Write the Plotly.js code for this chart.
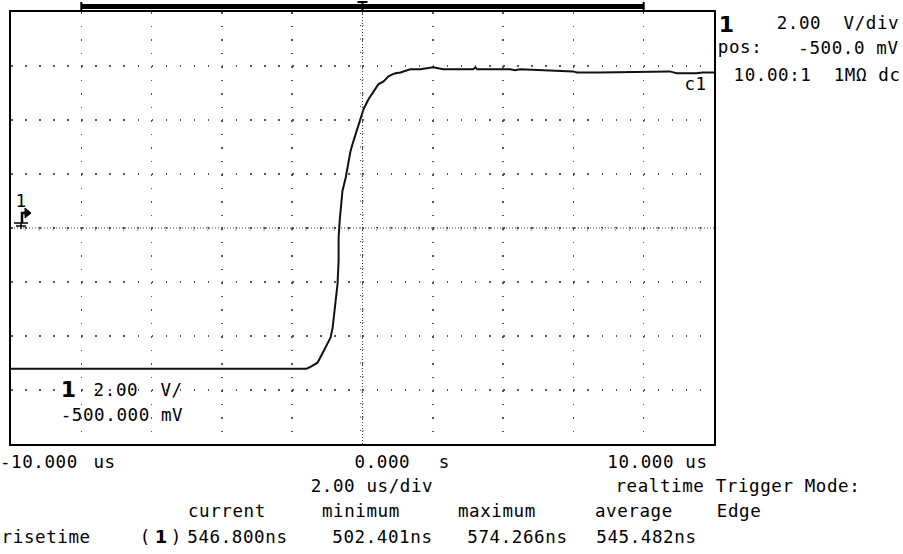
<!DOCTYPE html>
<html>
<head>
<meta charset="utf-8">
<script src="https://cdn.plot.ly/plotly-3.0.1.min.js"></script>
<style>
  html, body { margin: 0; padding: 0; background: #fff; }
  #scope .annotation-text { letter-spacing: 0.6px; }
</style>
</head>
<body>
<div id="scope" style="width:903px;height:554px;"></div>
<script>
// Channel 1 step response: time in microseconds, amplitude in volts
const timeUs = [-10, -1.59, -1.48, -1.28, -1.19, -1.05, -0.91, -0.85, -0.82, -0.77,
  -0.71, -0.68, -0.68, -0.65, -0.62, -0.57, -0.48, -0.40, -0.34, -0.26,
  -0.14, -0.06, 0.03, 0.17, 0.31, 0.45, 0.60, 0.74, 0.85, 0.94,
  1.08, 1.36, 1.65, 2.01, 2.30, 3.15, 3.21, 3.26, 4.20, 4.34,
  4.48, 5.13, 5.99, 6.10, 6.75, 8.74, 8.94, 9.50, 9.67, 10.0];
const ch1Volts = [-5.71, -5.71, -5.64, -5.49, -5.27, -4.93, -4.56, -4.20, -3.83, -3.38,
  -2.57, -1.72, -0.87, -0.24, 0.31, 0.87, 1.35, 1.90, 2.35, 2.71,
  3.20, 3.56, 3.90, 4.27, 4.56, 4.82, 4.93, 5.12, 5.19, 5.23,
  5.26, 5.38, 5.38, 5.45, 5.38, 5.38, 5.45, 5.38, 5.38, 5.34,
  5.38, 5.34, 5.30, 5.26, 5.26, 5.30, 5.23, 5.23, 5.26, 5.26];

// Horizontal / vertical settings
const timeRangeUs = [-10, 10];
const timePerDivUs = 2;
const voltsPerDiv = 2;
const offsetVolts = -0.5;
const timeValues = ['-10.000', '0.000', '10.000'];
const timeUnits = ['us', 's', 'us'];
const timebaseLabel = '2.00 us/div';

// Rise time measurement readout
const statNames = ['current', 'minimum', 'maximum', 'average'];
const risetimeNs = [546.800, 502.401, 574.266, 545.482];

const voltRange = [offsetVolts - 4 * voltsPerDiv, offsetVolts + 4 * voltsPerDiv];

// pixel helpers for the readout text around the graticule
const L = 11, T = 12, W = 703, H = 432;
const px = v => (v - L) / W;
const py = v => (T + H - v) / H;
const FONT = 'DejaVu Sans Mono';
const ann = [];
function txt(x, y, s, o) {
  o = o || {};
  ann.push({
    xref: 'paper', yref: 'paper', x: px(x), y: py(y), text: s, showarrow: false,
    xanchor: o.anchor || 'left', yanchor: 'middle',
    font: { family: o.family || FONT, size: o.size || 17.5, color: '#000', weight: o.weight || 'normal' }
  });
}

// channel info panel
txt(717, 24, '1', { size: 22, weight: 'bold', family: 'DejaVu Sans' });
txt(898, 22.5, '2.00  V/div', { anchor: 'right' });
txt(717, 47, 'pos:');
txt(898, 48, (offsetVolts * 1000).toFixed(1) + ' mV', { anchor: 'right' });
txt(898, 75, '10.00:1  1M\u03A9 dc', { anchor: 'right' });

// in-graticule labels
txt(59, 389, '1', { size: 22, weight: 'bold', family: 'DejaVu Sans' });
txt(94, 390, voltsPerDiv.toFixed(2) + '  V/');
txt(62, 415, (offsetVolts * 1000).toFixed(3) + ' mV');
txt(683, 84, 'c1');
txt(14, 201, '1', { size: 17, family: 'DejaVu Sans' });

// time axis labels
txt(0, 461.5, timeValues[0]);
txt(92, 461.5, timeUnits[0]);
txt(354, 461.5, timeValues[1]);
txt(437, 461.5, timeUnits[1]);
txt(707, 461.5, timeValues[2] + ' ' + timeUnits[2], { anchor: 'right' });
txt(312, 486.5, timebaseLabel);
txt(620, 486.5, 'realtime Trigger Mode:');

// measurement table
const colX = [188, 322, 458, 595];
statNames.forEach((n, i) => txt(colX[i], 510.5, n));
txt(716, 510.5, 'Edge');
txt(2, 536.5, 'risetime');
txt(138, 536.5, '(');
txt(153, 536.5, '1', { weight: 'bold', family: 'DejaVu Sans', size: 18 });
txt(169, 536.5, ')');
const valX = [188, 333, 468, 597];
risetimeNs.forEach((v, i) => txt(valX[i], 536.5, v.toFixed(3) + 'ns'));

// graticule centre lines with their sub-division crosses
const shapes = [];
const gray = '#444';
shapes.push({ type: 'line', xref: 'x', yref: 'y', x0: timeRangeUs[0], x1: timeRangeUs[1], y0: offsetVolts, y1: offsetVolts,
  line: { color: gray, width: 1, dash: '1px,2px' } });
shapes.push({ type: 'line', xref: 'x', yref: 'y', x0: 0, x1: 0, y0: voltRange[0], y1: voltRange[1],
  line: { color: gray, width: 1, dash: '1px,2px' } });
for (let t = timeRangeUs[0] + timePerDivUs / 5; t < timeRangeUs[1] - 1e-6; t += timePerDivUs / 5) {
  shapes.push({ type: 'line', xref: 'x', yref: 'y', xsizemode: 'scaled', ysizemode: 'pixel', yanchor: offsetVolts,
    x0: t, x1: t, y0: -2.5, y1: 2.5, line: { color: gray, width: 1, dash: '1px,1.5px' } });
}
for (let v = voltRange[0] + voltsPerDiv / 4; v < voltRange[1] - 1e-6; v += voltsPerDiv / 4) {
  shapes.push({ type: 'line', xref: 'x', yref: 'y', xsizemode: 'pixel', xanchor: 0,
    x0: -2.5, x1: 2.5, y0: v, y1: v, line: { color: gray, width: 1, dash: '1px,1.5px' } });
}

// acquisition record bar and trigger point above the graticule
shapes.push({ type: 'rect', xref: 'x', yref: 'paper', x0: -8, x1: 8, y0: py(9), y1: py(4),
  fillcolor: '#000', line: { width: 0 } });
shapes.push({ type: 'line', xref: 'x', yref: 'paper', x0: -8, x1: -8, y0: py(10), y1: py(2), line: { color: '#000', width: 2 } });
shapes.push({ type: 'line', xref: 'x', yref: 'paper', x0: 8, x1: 8, y0: py(10), y1: py(2), line: { color: '#000', width: 2 } });
shapes.push({ type: 'line', xref: 'x', yref: 'paper', x0: 0, x1: 0, y0: py(10), y1: py(2), line: { color: '#000', width: 2 } });
shapes.push({ type: 'line', xref: 'x', yref: 'paper', xsizemode: 'pixel', xanchor: 0, x0: -5, x1: 5, y0: py(2), y1: py(2),
  line: { color: '#000', width: 2 } });

// channel 1 ground / level marker on the left edge
shapes.push({ type: 'path', xref: 'paper', yref: 'y', xsizemode: 'pixel', ysizemode: 'pixel', xanchor: 0, yanchor: offsetVolts,
  path: 'M 11 5 L 11 15 L 15 15', line: { color: '#000', width: 2.5 } });
shapes.push({ type: 'path', xref: 'paper', yref: 'y', xsizemode: 'pixel', ysizemode: 'pixel', xanchor: 0, yanchor: offsetVolts,
  path: 'M 14 20 L 20 15 L 14 10 Z', fillcolor: '#000', line: { color: '#000', width: 1 } });
shapes.push({ type: 'path', xref: 'paper', yref: 'y', xsizemode: 'pixel', ysizemode: 'pixel', xanchor: 0, yanchor: offsetVolts,
  path: 'M 3 5 L 17 5 M 5 2 L 15 2 M 10 5 L 10 -1', line: { color: '#000', width: 1.5 } });

const trace = {
  x: timeUs, y: ch1Volts, type: 'scatter', mode: 'lines',
  line: { color: '#111', width: 2 }, hoverinfo: 'skip'
};

const axisBase = {
  showline: true, mirror: true, linecolor: '#000', linewidth: 2,
  showticklabels: false, ticks: '', zeroline: false, fixedrange: true,
  showgrid: true, gridcolor: '#555', gridwidth: 1.5
};

const layout = {
  width: 903, height: 554,
  margin: { l: L, r: 903 - L - W, t: T, b: 554 - T - H },
  paper_bgcolor: '#fff', plot_bgcolor: '#fff',
  showlegend: false,
  xaxis: Object.assign({}, axisBase, { range: timeRangeUs, dtick: timePerDivUs, tick0: 0, griddash: '1.5px,12px' }),
  yaxis: Object.assign({}, axisBase, { range: voltRange, dtick: voltsPerDiv, tick0: offsetVolts, griddash: '1.5px,12.56px' }),
  shapes: shapes,
  annotations: ann
};

Plotly.newPlot('scope', [trace], layout, { staticPlot: true, displayModeBar: false });
</script>
</body>
</html>
